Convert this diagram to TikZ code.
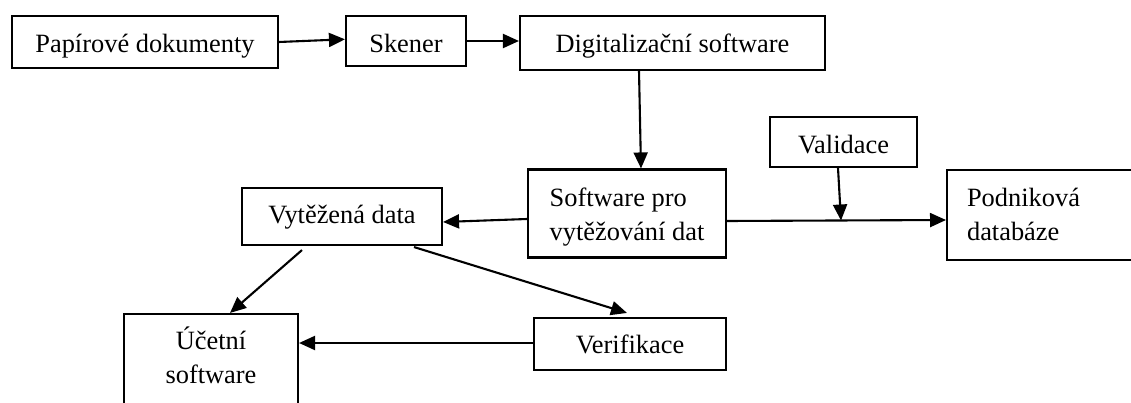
\documentclass[tikz,border=0pt]{standalone}
\usepackage{fontspec}
\setmainfont{Liberation Serif}
\usetikzlibrary{arrows.meta}
\begin{document}
\begin{tikzpicture}[x=1pt,y=-1pt,
  font=\fontsize{26.4}{34}\selectfont,
  box/.style={draw, line width=2.1pt, inner sep=0pt, text depth=0pt},
  conn/.style={line width=2.1pt, -{Triangle[length=16pt,width=14pt]}}]
\useasboundingbox (0,0) rectangle (1131,403);
\fill[white] (0,0) rectangle (1131,403);
\clip (0,0) rectangle (1131,403);
% boxes
\node[box, minimum width=266pt, minimum height=52pt, text height=22pt] (pap) at (145,42) {Papírové dokumenty};
\node[box, minimum width=120pt, minimum height=50pt, text height=23pt] (sken) at (406,41) {Skener};
\node[box, minimum width=305pt, minimum height=54pt, text height=19pt] (digi) at (672.5,43) {Digitalizační software};
\node[box, minimum width=198pt, minimum height=88pt, text height=0pt, text depth=13pt] (soft) at (627,213.5)
  {\begin{tabular}[t]{@{}l@{}}Software pro\\vytěžování dat\end{tabular}};
\node[box, minimum width=147pt, minimum height=50pt, text height=24pt] (val) at (843.5,142) {Validace};
\node[box, anchor=west, minimum height=90pt, inner xsep=20pt, text height=0pt, text depth=16pt] (podn) at (946,215)
  {\makebox[200pt][l]{\begin{tabular}[t]{@{}l@{}}Podniková\\databáze\end{tabular}}};
\node[box, minimum width=200pt, minimum height=57pt, text height=15pt] (vyt) at (342,216.5) {Vytěžená data};
\node[box, minimum width=174pt, minimum height=100pt, text height=0pt, text depth=30pt] (ucet) at (211,364)
  {\begin{tabular}[t]{@{}c@{}}Účetní\\software\end{tabular}};
\node[box, minimum width=192pt, minimum height=52pt, text height=19pt] (verif) at (630,344) {Verifikace};
% connectors
\draw[conn] (pap.east) -- ([yshift=1.7pt]sken.west);
\draw[conn] (sken.east) -- (sken.east -| digi.west);
\draw[conn] ([xshift=-33.5pt]digi.south) -- ([xshift=14pt]soft.north);
\draw[conn] ([yshift=-5.5pt]soft.west) -- ([yshift=-5.5pt]vyt.east);
\draw[conn] ([yshift=-7.5pt]soft.east) -- ([yshift=-5pt]podn.west);
\coordinate (vj) at (841,220.5);
\draw[conn] ([xshift=-5.5pt]val.south) -- (vj);
\draw[conn] ([xshift=-40pt,yshift=-4pt]vyt.south) -- ([xshift=19pt]ucet.north);
\draw[conn] ([xshift=72pt,yshift=-1pt]vyt.south) -- ([xshift=-3pt,yshift=4pt]verif.north);
\draw[conn] ([yshift=1pt]verif.west) -- ([yshift=1pt]verif.west -| ucet.east);
\end{tikzpicture}
\end{document}
